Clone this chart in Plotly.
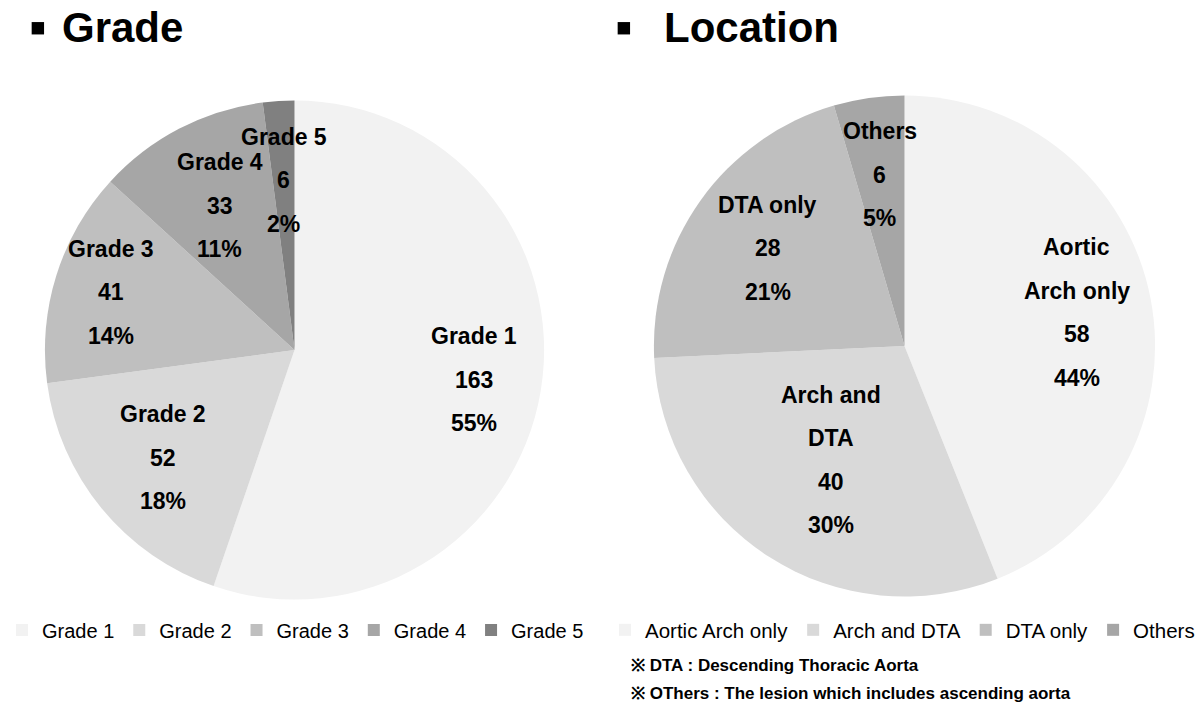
import math
import plotly.graph_objects as go

# ---- data ----
grade_labels = ["Grade 1", "Grade 2", "Grade 3", "Grade 4", "Grade 5"]
grade_values = [163, 52, 41, 33, 6]
grade_colors = ["#f2f2f2", "#d9d9d9", "#bfbfbf", "#a6a6a6", "#808080"]

loc_labels = ["Aortic Arch only", "Arch and DTA", "DTA only", "Others"]
loc_text_lines = [["Aortic", "Arch only"], ["Arch and", "DTA"], ["DTA only"], ["Others"]]
loc_values = [58, 40, 28, 6]
loc_colors = ["#f2f2f2", "#d9d9d9", "#bfbfbf", "#a6a6a6"]

# label placement (fraction of radius) for each slice
grade_label_r = [0.73, 0.68, 0.77, 0.65, 0.68]
loc_label_r = [0.70, 0.54, 0.67, 0.69]

W, H = 1200, 710
grade_dom = dict(x=[45 / W, 545 / W], y=[1 - 600 / H, 1 - 100 / H])
loc_dom = dict(x=[655 / W, 1157 / W], y=[1 - 597 / H, 1 - 95 / H])

FONT = "Liberation Sans, Arial, sans-serif"

fig = go.Figure()
fig.add_trace(go.Pie(
    labels=grade_labels, values=grade_values, sort=False, direction="clockwise",
    rotation=0, marker=dict(colors=grade_colors, line=dict(width=0)),
    textinfo="none", hoverinfo="label+value+percent", domain=grade_dom,
    legend="legend", showlegend=True,
))
fig.add_trace(go.Pie(
    labels=loc_labels, values=loc_values, sort=False, direction="clockwise",
    rotation=0, marker=dict(colors=loc_colors, line=dict(width=0)),
    textinfo="none", hoverinfo="label+value+percent", domain=loc_dom,
    legend="legend2", showlegend=True,
))

annotations = []


def add_labels(dom, lines_list, values, rfracs):
    cx = (dom["x"][0] + dom["x"][1]) / 2 * W
    cy = (1 - (dom["y"][0] + dom["y"][1]) / 2) * H
    r = (dom["x"][1] - dom["x"][0]) * W / 2
    total = sum(values)
    cum = 0
    for lines, v, rf in zip(lines_list, values, rfracs):
        mid = (cum + v / 2) / total * 2 * math.pi
        cum += v
        px = cx + rf * r * math.sin(mid)
        py = cy - rf * r * math.cos(mid)
        all_lines = lines + [str(v), f"{round(v / total * 100)}%"]
        n = len(all_lines)
        for i, t in enumerate(all_lines):
            yy = py + (i - (n - 1) / 2) * 43.5
            annotations.append(dict(
                x=px / W, y=1 - yy / H, xref="paper", yref="paper", text=f"<b>{t}</b>",
                showarrow=False, xanchor="center", yanchor="middle",
                font=dict(family=FONT, size=23, color="#000000"),
            ))


add_labels(grade_dom, [[l] for l in grade_labels], grade_values, grade_label_r)
add_labels(loc_dom, loc_text_lines, loc_values, loc_label_r)

# titles
annotations += [
    dict(x=27 / W, y=1 - 27 / H, xref="paper", yref="paper", text="<b>▪</b>", showarrow=False,
         xanchor="left", yanchor="middle", font=dict(family=FONT, size=50, color="#000")),
    dict(x=60 / W, y=1 - 28 / H, xref="paper", yref="paper", text="<b>Grade</b>", showarrow=False,
         xanchor="left", yanchor="middle", font=dict(family=FONT, size=42, color="#000")),
    dict(x=614 / W, y=1 - 27 / H, xref="paper", yref="paper", text="<b>▪</b>", showarrow=False,
         xanchor="left", yanchor="middle", font=dict(family=FONT, size=50, color="#000")),
    dict(x=663 / W, y=1 - 28 / H, xref="paper", yref="paper", text="<b>Location</b>", showarrow=False,
         xanchor="left", yanchor="middle", font=dict(family=FONT, size=42, color="#000")),
    dict(x=630 / W, y=1 - 665 / H, xref="paper", yref="paper",
         text="<b>※ DTA : Descending Thoracic Aorta</b>", showarrow=False,
         xanchor="left", yanchor="middle", font=dict(family=FONT, size=17, color="#000")),
    dict(x=630 / W, y=1 - 693 / H, xref="paper", yref="paper",
         text="<b>※ OThers : The lesion which includes ascending aorta</b>", showarrow=False,
         xanchor="left", yanchor="middle", font=dict(family=FONT, size=17, color="#000")),
]

fig.update_layout(
    width=W, height=H, margin=dict(l=0, r=0, t=0, b=0),
    paper_bgcolor="white", plot_bgcolor="white",
    annotations=annotations,
    legend=dict(orientation="h", x=2 / W, y=1 - 630 / H, xanchor="left", yanchor="middle",
                font=dict(family=FONT, size=20, color="#000"), itemwidth=30,
                traceorder="normal", bgcolor="rgba(0,0,0,0)"),
    legend2=dict(orientation="h", x=606 / W, y=1 - 630 / H, xanchor="left", yanchor="middle",
                 font=dict(family=FONT, size=20.5, color="#000"), itemwidth=30,
                 traceorder="normal", bgcolor="rgba(0,0,0,0)"),
)

fig.write_html("out.html")
